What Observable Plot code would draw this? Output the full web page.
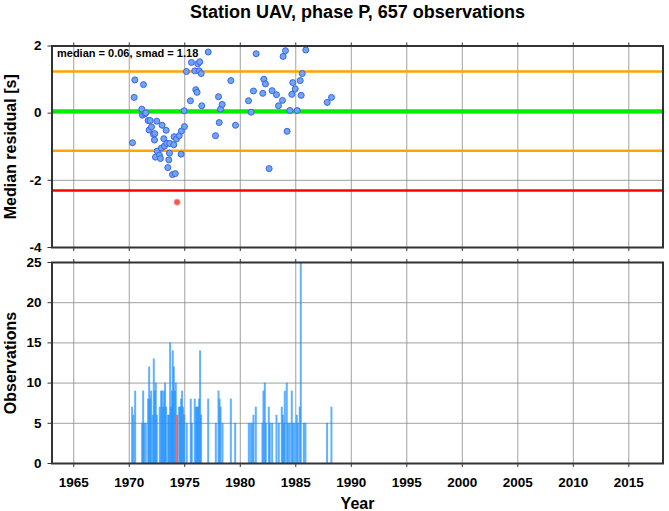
<!DOCTYPE html>
<html>
<head>
<meta charset="utf-8">
<script src="https://cdn.jsdelivr.net/npm/d3@7"></script>
<script src="https://cdn.jsdelivr.net/npm/@observablehq/plot@0.6"></script>
<style>
  html, body { margin: 0; padding: 0; background: #fff; }
  #wrap { position: relative; width: 669px; height: 511px; overflow: hidden; }
  #wrap > svg, #wrap > figure { position: absolute; left: 0; margin: 0; }
</style>
</head>
<body>
<div id="wrap"></div>
<script>
// ---------- data ----------
const titleText = "Station UAV, phase P, 657 observations";
const statsText = "median = 0.06, smad = 1.18";
const xTicks = [1965, 1970, 1975, 1980, 1985, 1990, 1995, 2000, 2005, 2010, 2015];
const resTicks = [-4, -2, 0, 2];
const obsTicks = [0, 5, 10, 15, 20, 25];

// median residuals (kept observations)
const resYears = [1970.29, 1970.50, 1970.44, 1971.28, 1971.13, 1971.19, 1971.40, 1971.49, 1971.70, 1971.88,
  1971.79, 1972.00, 1972.18, 1972.30, 1972.27, 1972.48, 1972.51, 1972.36, 1972.72, 1972.81,
  1972.96, 1972.90, 1973.11, 1973.32, 1973.17, 1973.38, 1973.65, 1973.62, 1973.56, 1973.47,
  1973.89, 1974.14, 1974.01, 1974.04, 1974.25, 1974.50, 1974.70, 1974.97, 1974.67, 1974.94,
  1975.15, 1975.51, 1975.60, 1975.90, 1975.99, 1976.11, 1976.17, 1976.35, 1976.30, 1976.48,
  1976.53, 1977.11, 1977.77, 1978.10, 1978.04, 1978.22, 1978.37, 1979.15, 1979.57, 1980.74,
  1980.98, 1981.19, 1981.43, 1982.03, 1982.12, 1982.27, 1982.60, 1982.87, 1983.26, 1983.44,
  1983.80, 1983.86, 1984.07, 1984.22, 1984.46, 1984.64, 1984.73, 1984.95, 1985.13, 1985.40,
  1985.49, 1985.58, 1985.90, 1987.83, 1988.22];
const resValues = [-0.88, 0.99, 0.47, 0.85, 0.12, -0.06, -0.02, 0.01, -0.22, -0.22,
  -0.50, -0.41, -0.63, -0.61, -0.80, -0.24, -1.13, -1.31, -1.25, -1.35,
  -0.36, -1.04, -0.76, -0.51, -0.98, -0.90, -0.90, -1.19, -1.39, -1.62,
  -1.83, -1.80, -0.94, -0.70, -0.77, -0.67, -0.53, -0.40, -1.22, 0.07,
  1.24, 0.37, 1.51, 1.26, 0.70, 0.62, 1.47, 1.53, 1.26, 1.18,
  0.22, 1.82, -0.67, -0.28, 0.49, 0.12, 0.26, 0.97, -0.36, 0.37,
  0.03, 0.66, 1.77, 0.59, 1.01, 0.87, -1.65, 0.67, 0.55, 0.22,
  0.38, 1.69, 1.86, -0.54, 0.08, 0.56, 0.91, 0.72, 0.08, 0.97,
  0.53, 1.18, 1.88, 0.32, 0.47];
// rejected observations
const outYears = [1974.31];
const outValues = [-2.65];

// reference levels: median, median ± smad, median - 2 smad
const medianLevel = [0.06];
const smadLevels = [1.24, -1.12];
const rejectLevels = [-2.30];

// observations per month
const barYears = [1970.26, 1970.38, 1970.53, 1971.16, 1971.25, 1971.34, 1971.49, 1971.70, 1971.79, 1971.88,
  1971.97, 1972.12, 1972.21, 1972.30, 1972.39, 1972.48, 1972.75, 1972.87, 1972.96, 1973.05,
  1973.14, 1973.23, 1973.32, 1973.50, 1973.59, 1973.68, 1973.77, 1973.86, 1973.92, 1974.01,
  1974.10, 1974.19, 1974.49, 1974.58, 1974.67, 1974.76, 1974.85, 1974.94, 1975.18, 1975.54,
  1975.63, 1975.90, 1976.02, 1976.11, 1976.20, 1976.29, 1976.38, 1976.47, 1977.11, 1977.80,
  1978.04, 1978.13, 1978.22, 1978.40, 1979.15, 1979.54, 1980.77, 1980.95, 1981.10, 1981.19,
  1981.40, 1982.00, 1982.09, 1982.21, 1982.30, 1982.57, 1982.66, 1982.87, 1983.26, 1983.47,
  1983.74, 1983.83, 1983.92, 1984.01, 1984.19, 1984.31, 1984.46, 1984.64, 1984.73, 1984.88,
  1985.09, 1985.18, 1985.36, 1985.45, 1985.72, 1985.87, 1987.82, 1988.21];
const barCounts = [7, 6, 9, 5, 9, 5, 5, 8, 12, 8,
  9, 6, 13, 9, 10, 6, 7, 9, 9, 7,
  9, 10, 7, 6, 6, 15, 7, 9, 14, 12,
  9, 10, 7, 7, 8, 9, 7, 6, 5, 8,
  5, 8, 7, 7, 7, 8, 14, 6, 8, 5,
  9, 8, 7, 5, 8, 5, 5, 5, 5, 6,
  7, 5, 9, 10, 5, 7, 5, 5, 6, 5,
  7, 6, 5, 9, 10, 5, 5, 9, 5, 5,
  6, 5, 7, 25, 5, 5, 5, 7];
const outBarYears = [1974.31];
const outBarCounts = [6];

// ---------- build ----------
const residuals = resYears.map((y, i) => ({year: y, value: resValues[i]}));
const outliers = outYears.map((y, i) => ({year: y, value: outValues[i]}));
const bars = barYears.map((y, i) => ({year: y, count: barCounts[i]}));
const outBars = outBarYears.map((y, i) => ({year: y, count: outBarCounts[i]}));

const FONT = "'Liberation Sans', Arial, Helvetica, sans-serif";
const xDomain = [1963.04, 2018.08];
const ML = 51.5, MR = 6.5;
const gridColor = "#8a8a8a";
const frameColor = "#333";
const blank = () => "";

const topPlot = Plot.plot({
  width: 669, height: 260,
  marginLeft: ML, marginRight: MR, marginTop: 45.5, marginBottom: 13,
  style: {fontFamily: FONT, fontSize: "13.5px", fontWeight: "bold", background: "transparent", overflow: "visible"},
  x: {domain: xDomain},
  y: {domain: [-4, 2]},
  marks: [
    Plot.gridX(xTicks, {stroke: gridColor, strokeOpacity: 0.8, strokeWidth: 1}),
    Plot.gridY(resTicks, {stroke: gridColor, strokeOpacity: 0.8, strokeWidth: 1}),
    Plot.ruleY(smadLevels, {stroke: "#ffa500", strokeWidth: 2.5}),
    Plot.ruleY(rejectLevels, {stroke: "#ff0000", strokeWidth: 2.5}),
    Plot.ruleY(medianLevel, {stroke: "#00ee00", strokeWidth: 4}),
    Plot.text([statsText], {frameAnchor: "top-left", textAnchor: "start", lineAnchor: "middle", dx: 5, dy: 7.5, fontSize: 11, fontWeight: "bold", fill: "#000"}),
    Plot.dot(residuals, {x: "year", y: "value", r: 3, fill: "#6fa6f2", stroke: "#3c62e6", strokeWidth: 1}),
    Plot.dot(outliers, {x: "year", y: "value", r: 3, fill: "#f25a5a", stroke: "#ff8c8c", strokeWidth: 1}),
    Plot.frame({stroke: frameColor, strokeWidth: 2}),
    Plot.axisX({anchor: "bottom", ticks: xTicks, tickSize: 4, tickFormat: blank, label: null, stroke: frameColor}),
    Plot.axisX({anchor: "top", ticks: xTicks, tickSize: 4, tickFormat: blank, label: null, stroke: frameColor}),
    Plot.axisY({anchor: "left", ticks: resTicks, tickSize: 4, tickPadding: 6.5, tickFormat: d => String(d), label: null, stroke: frameColor}),
    Plot.text(["Median residual [s]"], {frameAnchor: "left", textAnchor: "middle", lineAnchor: "middle", dx: -41, rotate: -90, fontSize: 16, fontWeight: "bold", fill: "#000"}),
    Plot.text([titleText], {frameAnchor: "top", textAnchor: "middle", lineAnchor: "middle", dy: -33.5, fontSize: 18, fontWeight: "bold", fill: "#000"})
  ]
});

const bottomPlot = Plot.plot({
  width: 669, height: 256,
  marginLeft: ML, marginRight: MR, marginTop: 7, marginBottom: 48,
  style: {fontFamily: FONT, fontSize: "13.5px", fontWeight: "bold", background: "transparent", overflow: "visible"},
  x: {domain: xDomain},
  y: {domain: [0, 25]},
  marks: [
    Plot.gridX(xTicks, {stroke: gridColor, strokeOpacity: 0.8, strokeWidth: 1}),
    Plot.gridY(obsTicks, {stroke: gridColor, strokeOpacity: 0.8, strokeWidth: 1}),
    Plot.ruleX(bars, {x: "year", y1: 0, y2: "count", stroke: "#1e90ff", strokeWidth: 2, strokeOpacity: 0.7}),
    Plot.ruleX(outBars, {x: "year", y1: 0, y2: "count", stroke: "#f26464", strokeWidth: 2}),
    Plot.frame({stroke: frameColor, strokeWidth: 2}),
    Plot.axisX({anchor: "top", ticks: xTicks, tickSize: 4, tickFormat: blank, label: null, stroke: frameColor}),
    Plot.axisX({anchor: "bottom", ticks: xTicks, tickSize: 4, tickPadding: 10, tickFormat: d => String(d), label: null, stroke: frameColor}),
    Plot.axisY({anchor: "left", ticks: obsTicks, tickSize: 4, tickPadding: 6.5, tickFormat: d => String(d), label: null, stroke: frameColor}),
    Plot.text(["Observations"], {frameAnchor: "left", textAnchor: "middle", lineAnchor: "middle", dx: -41, rotate: -90, fontSize: 16, fontWeight: "bold", fill: "#000"}),
    Plot.text(["Year"], {frameAnchor: "bottom", textAnchor: "middle", lineAnchor: "middle", dy: 40, fontSize: 16, fontWeight: "bold", fill: "#000"})
  ]
});

const wrap = document.getElementById("wrap");
topPlot.style.top = "0px";
bottomPlot.style.top = "255px";
wrap.appendChild(topPlot);
wrap.appendChild(bottomPlot);
</script>
</body>
</html>
